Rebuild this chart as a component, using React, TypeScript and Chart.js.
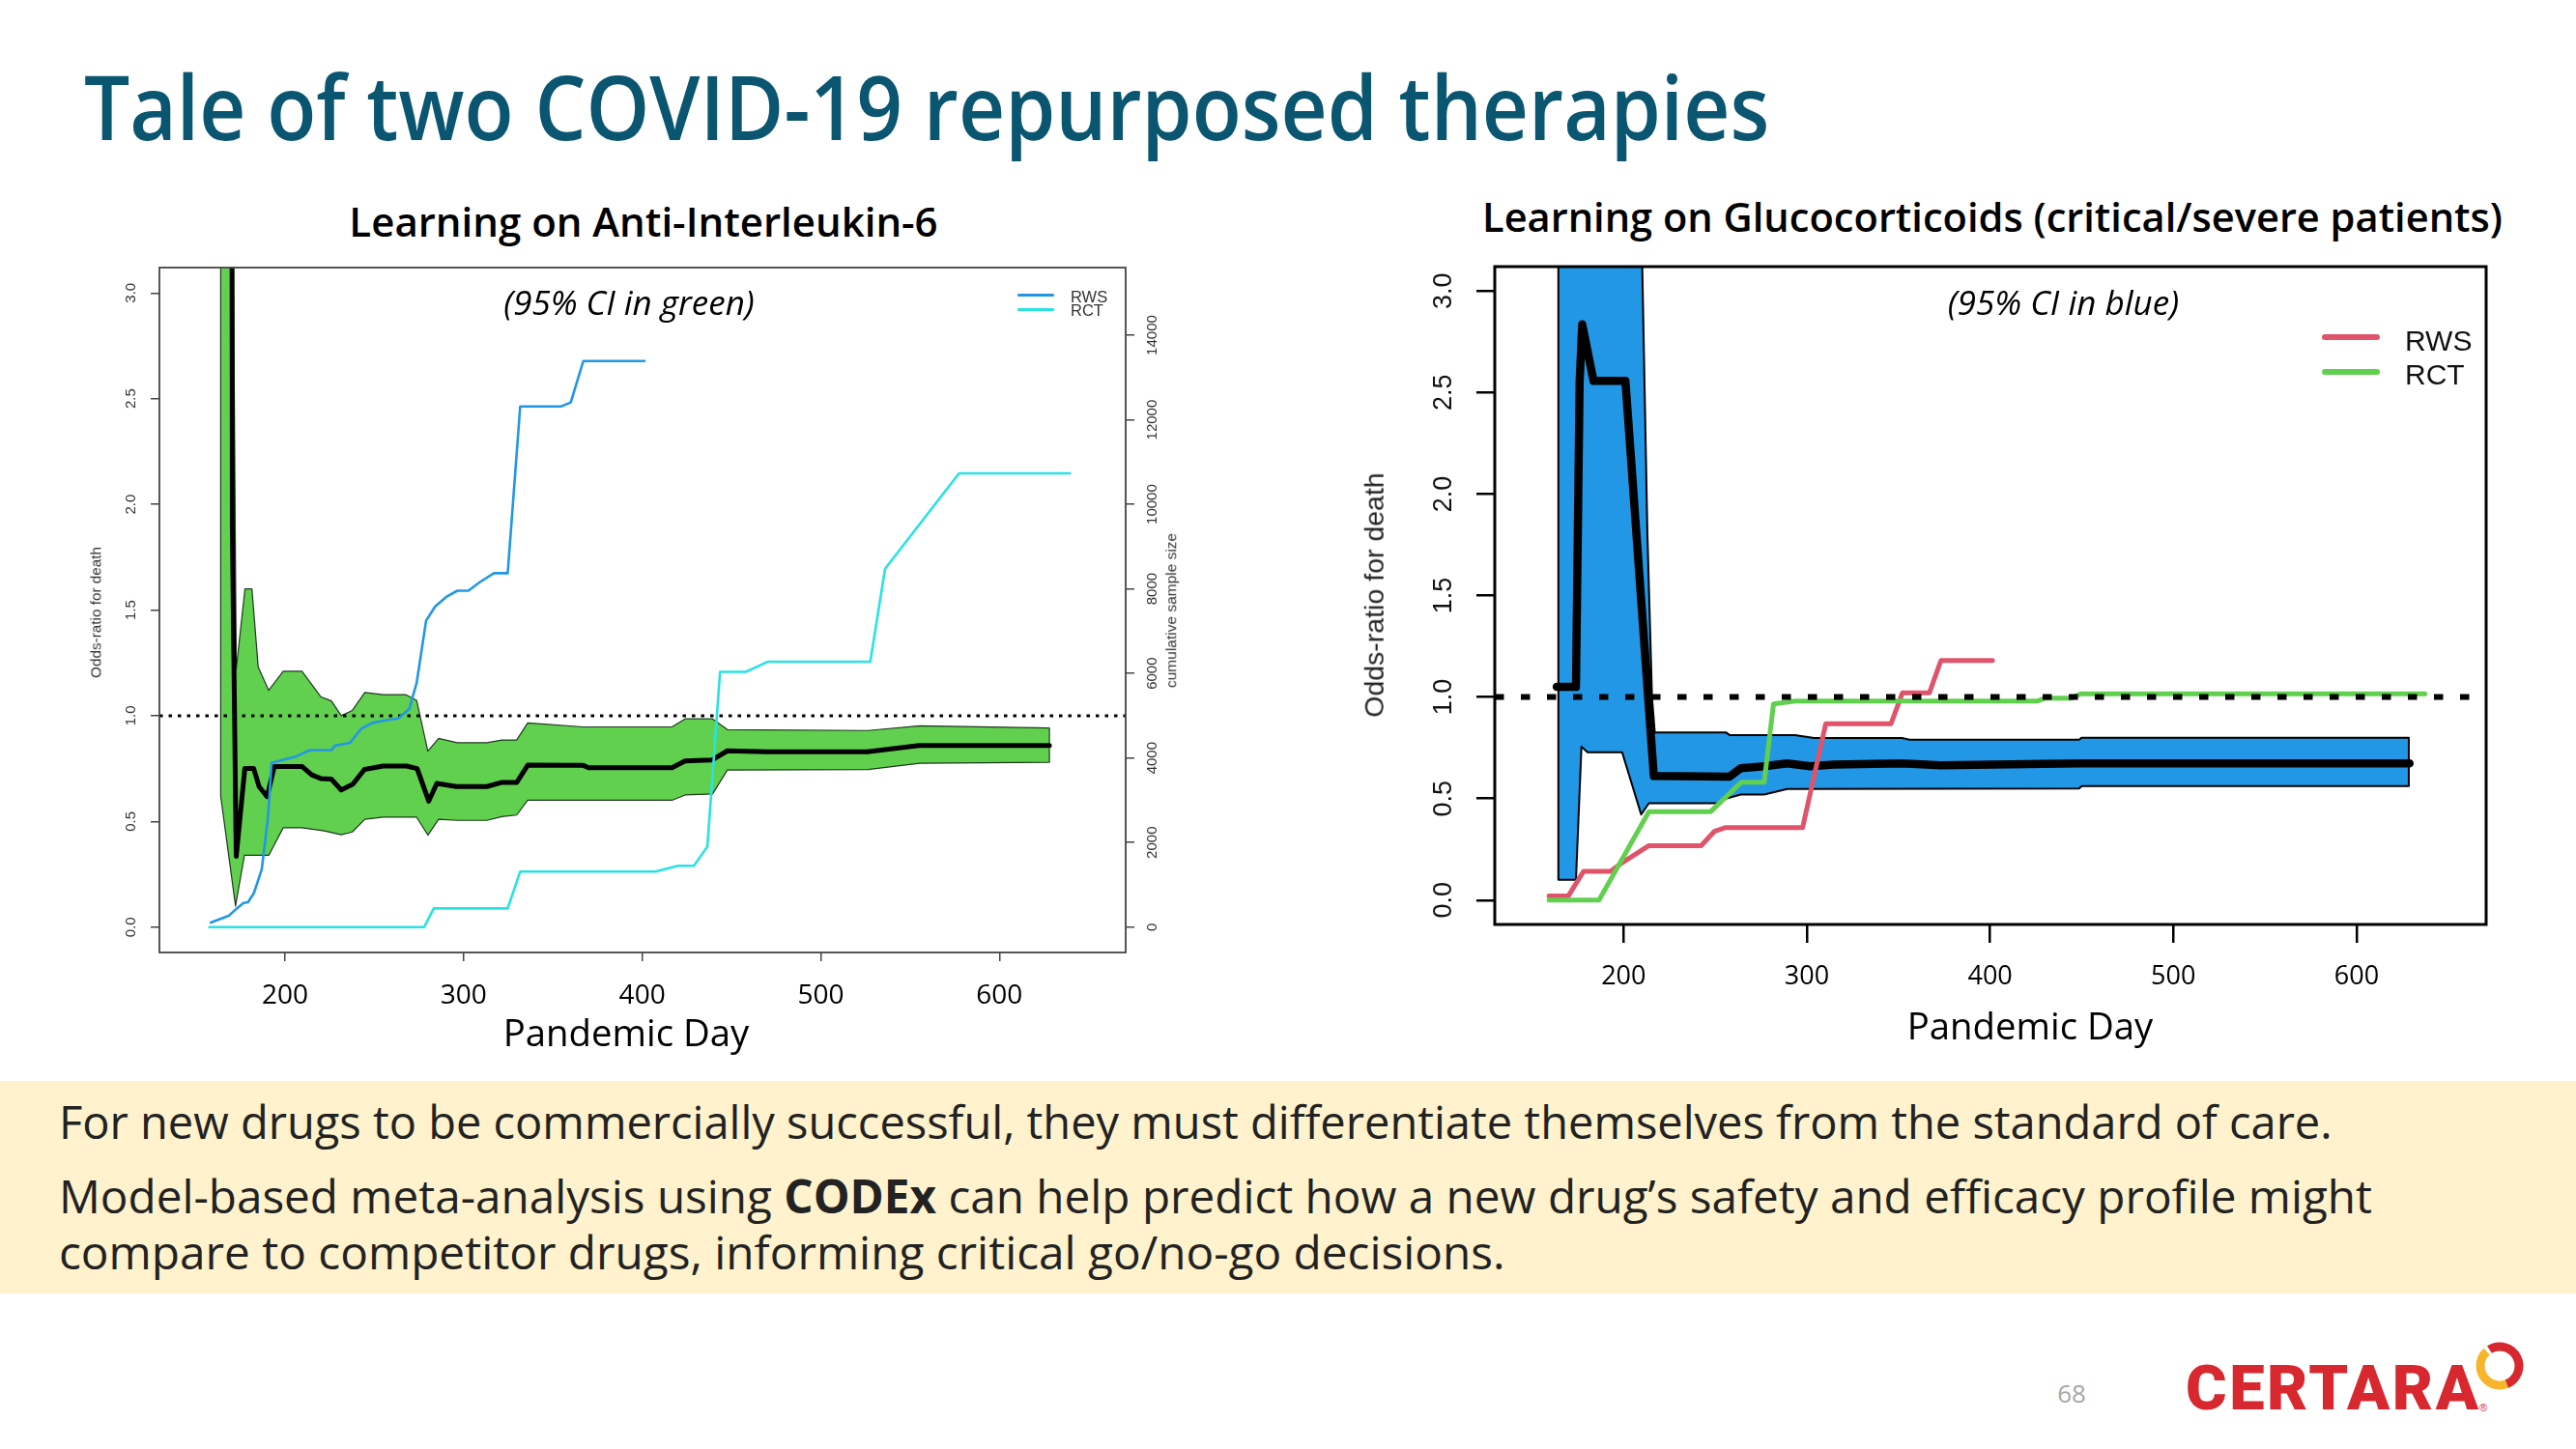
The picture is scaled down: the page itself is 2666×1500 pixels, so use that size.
import React, { useEffect, useRef } from "react";
import { Chart, registerables } from "chart.js";

Chart.register(...registerables);

// ---------------- Data (day, value) ----------------
// Left: Anti-Interleukin-6 — odds-ratio for death with 95% CI, cumulative sample sizes
const il6OddsRatio: [number, number][] = [
  [164, 60], [170.5, 1.9], [172.7, 0.335], [177.5, 0.75], [182.5, 0.75], [185.5, 0.665], [190, 0.617],
  [194, 0.76], [209.5, 0.76], [215, 0.72], [220, 0.703], [226, 0.7], [231.5, 0.649], [238, 0.676],
  [244.5, 0.746], [255, 0.762], [268, 0.762], [274, 0.75], [280.5, 0.596], [285, 0.68], [296, 0.665],
  [313, 0.665], [321, 0.684], [329.7, 0.684], [336, 0.767], [367, 0.765], [370, 0.754], [416.7, 0.754],
  [424, 0.786], [439, 0.79], [447.7, 0.834], [470, 0.829], [526, 0.829], [555, 0.859], [628, 0.859],
];
const il6CiUpper: [number, number][] = [
  [164, 40], [170.9, 3.4], [172.7, 1.22], [177.6, 1.6], [181.5, 1.6], [185, 1.23], [190.9, 1.12],
  [199, 1.21], [209.5, 1.21], [220, 1.09], [226, 1.07], [231.5, 1.0], [237.7, 1.025], [244.7, 1.11],
  [255, 1.1], [267.5, 1.1], [273.7, 1.073], [280, 0.832], [286, 0.893], [296.5, 0.872], [313, 0.872],
  [321.4, 0.885], [329.7, 0.885], [335.9, 0.966], [367, 0.947], [416.7, 0.947], [424, 0.985],
  [439.4, 0.985], [447.7, 0.934], [526.4, 0.93], [555.4, 0.952], [628, 0.942],
];
const il6CiLower: [number, number][] = [
  [164, 0.62], [172.3, 0.1], [177.3, 0.34], [191, 0.34], [199, 0.47], [209.5, 0.47], [222, 0.455],
  [231.5, 0.437], [237.7, 0.45], [244.7, 0.51], [255, 0.52], [273.7, 0.52], [280, 0.435], [286, 0.51],
  [296.5, 0.505], [313, 0.505], [321.4, 0.523], [329.7, 0.53], [335.9, 0.6], [416.7, 0.6], [424, 0.625],
  [439.4, 0.63], [447.7, 0.743], [526.4, 0.745], [555.4, 0.775], [628, 0.78],
];
const il6RwsSampleSize: [number, number][] = [
  [158.5, 110], [168.5, 270], [172.5, 420], [176.8, 570], [179.3, 590], [182.6, 805], [187, 1370],
  [190.5, 2600], [192.5, 3890], [194, 3900], [205.4, 4025], [214, 4186], [226, 4186], [228, 4293],
  [236.5, 4360], [242.7, 4695], [249, 4830], [255, 4883], [263.4, 4936], [269.6, 5165], [273.7, 5770],
  [279, 7245], [284, 7580], [290.3, 7809], [296.5, 7957], [302.7, 7957], [309, 8157], [317, 8372],
  [324.7, 8372], [331.7, 12316], [354.5, 12316], [360, 12410], [367, 13389], [401.3, 13389],
];
const il6RctSampleSize: [number, number][] = [
  [157.7, 0], [277.9, 0], [283.3, 443], [324.7, 443], [331.7, 1315], [407.5, 1315], [420, 1449],
  [429, 1449], [436.5, 1905], [443.6, 6037], [458, 6037], [470.5, 6279], [527.7, 6279], [536, 8478],
  [577.4, 10733], [639.5, 10733],
];

// Right: Glucocorticoids (critical/severe patients)
const gcOddsRatio: [number, number][] = [
  [163.5, 1.05], [174, 1.05], [176, 2.55], [177.4, 2.836], [183.6, 2.557], [201, 2.557], [216.5, 0.611],
  [257.9, 0.608], [264, 0.65], [276.7, 0.659], [289.3, 0.673], [301.9, 0.659], [314.5, 0.667],
  [352, 0.673], [373, 0.664], [448.6, 0.673], [628.9, 0.673],
];
const gcCiUpper: [number, number][] = [
  [164.4, 40], [209.4, 40], [209.8, 3.3], [213, 1.8], [215.5, 1.0], [217, 0.826], [255.8, 0.826],
  [258, 0.812], [293.5, 0.812], [304, 0.798], [352, 0.798], [356, 0.79], [448.6, 0.79], [450, 0.8],
  [628.5, 0.8],
];
const gcCiLower: [number, number][] = [
  [164.4, 0.1], [174, 0.1], [177, 0.756], [180.3, 0.728], [199.2, 0.728], [209.6, 0.421], [213.8, 0.477],
  [251.6, 0.477], [255.8, 0.5], [264, 0.52], [276.7, 0.52], [289.3, 0.547], [448.6, 0.55], [450, 0.561],
  [628.5, 0.561],
];
const gcRws: [number, number][] = [
  [159.3, 0.02], [169.8, 0.02], [178.2, 0.142], [192.9, 0.142], [199.2, 0.184], [213.8, 0.268],
  [242.3, 0.268], [249.5, 0.338], [255.8, 0.357], [297.7, 0.357], [310.3, 0.868], [345.9, 0.868],
  [352.2, 1.021], [366.9, 1.021], [373.2, 1.18], [401.3, 1.18],
];
const gcRct: [number, number][] = [
  [159.3, 0], [186.6, 0], [213.8, 0.435], [247.4, 0.435], [264.2, 0.58], [276.7, 0.58], [281.8, 0.966],
  [293.5, 0.98], [425.6, 0.98], [429.8, 0.994], [444.4, 0.994], [449.5, 1.016], [637.3, 1.016],
];

// Axes
const dayTicks = [200, 300, 400, 500, 600];
const orTicks = [0, 0.5, 1, 1.5, 2, 2.5, 3];
const sampleTicks = [0, 2000, 4000, 6000, 8000, 10000, 12000, 14000];
const dayRange = [129.7, 670.7];
const orRange = [-0.12, 3.12];
const sampleRange = [-600, 15600];
const referenceOR = 1;

// ---------------- Helpers ----------------
const SANS = "'Open Sans', 'Noto Sans', sans-serif";
const ARIAL = "'Liberation Sans', Arial, sans-serif";

const toXY = (pts: [number, number][]) => pts.map(([x, y]) => ({ x, y }));
const band = (upper: [number, number][], lower: [number, number][]) =>
  toXY([...upper, ...[...lower].reverse(), upper[0]]);
const refLine = () => [
  { x: dayRange[0], y: referenceOR },
  { x: dayRange[1], y: referenceOR },
];

const boxPlugin = (color: string, width: number) => ({
  id: "plotBox",
  afterDatasetsDraw(chart: any) {
    const { ctx, chartArea: a } = chart;
    ctx.save();
    ctx.strokeStyle = color;
    ctx.lineWidth = width;
    ctx.strokeRect(a.left, a.top, a.right - a.left, a.bottom - a.top);
    ctx.restore();
  },
});

const zeroPad = (s: any) => {
  s.paddingTop = 0;
  s.paddingBottom = 0;
  s.paddingLeft = 0;
  s.paddingRight = 0;
};

function axis(o: {
  position: string; range: number[]; ticks: number[]; size: number; tickLen: number; color: string;
  lineWidth: number; pad: number; font: any; labelColor: string; fmt: (v: number) => string; rotated: boolean;
}) {
  const horizontal = o.position === "bottom";
  return {
    type: "linear",
    position: o.position,
    min: o.range[0],
    max: o.range[1],
    afterBuildTicks: (s: any) => {
      s.ticks = o.ticks.map((value) => ({ value }));
    },
    afterFit: (s: any) => {
      if (horizontal) s.height = o.size;
      else s.width = o.size;
      zeroPad(s);
    },
    grid: { drawOnChartArea: false, drawTicks: true, tickLength: o.tickLen, color: o.color, lineWidth: o.lineWidth },
    border: { display: false },
    ticks: {
      autoSkip: false,
      includeBounds: false,
      padding: o.pad,
      color: o.labelColor,
      font: o.font,
      callback: (v: any) => o.fmt(Number(v)),
      ...(o.rotated ? { minRotation: 90, maxRotation: 90, crossAlign: "center" } : { minRotation: 0, maxRotation: 0 }),
    },
  };
}

const baseOptions = (padding: any) => ({
  animation: false,
  responsive: false,
  maintainAspectRatio: false,
  devicePixelRatio: 1,
  events: [],
  layout: { padding },
  plugins: { legend: { display: false }, tooltip: { enabled: false }, title: { display: false } },
  elements: { point: { radius: 0 }, line: { tension: 0, borderJoinStyle: "round", borderCapStyle: "round" } },
});

const leftConfig = () => ({
  type: "line",
  data: {
    datasets: [
      { label: "RCT", data: toXY(il6RctSampleSize), yAxisID: "n", borderColor: "#28E2E5", borderWidth: 2.6, fill: false },
      { label: "RWS", data: toXY(il6RwsSampleSize), yAxisID: "n", borderColor: "#2297E6", borderWidth: 2.6, fill: false },
      { label: "OR = 1", data: refLine(), yAxisID: "y", borderColor: "#000", borderWidth: 3, borderDash: [3.5, 6], borderCapStyle: "butt", fill: false },
      { label: "Odds-ratio", data: toXY(il6OddsRatio), yAxisID: "y", borderColor: "#000", borderWidth: 5, fill: false },
      { label: "95% CI", data: band(il6CiUpper, il6CiLower), yAxisID: "y", borderColor: "#1e3a1e", borderWidth: 1.2, backgroundColor: "#61D04F", fill: "shape" },
    ],
  },
  options: {
    ...baseOptions({ top: 15, left: 0, right: 0, bottom: 0 }),
    scales: {
      x: axis({ position: "bottom", range: dayRange, ticks: dayTicks, size: 66, tickLen: 9, color: "#444", lineWidth: 1.5, pad: 19, font: { family: SANS, size: 28 }, labelColor: "#000", fmt: (v) => String(v), rotated: false }),
      y: axis({ position: "left", range: orRange, ticks: orTicks, size: 105, tickLen: 9, color: "#444", lineWidth: 1.5, pad: 9.3, font: { family: ARIAL, size: 15 }, labelColor: "#333", fmt: (v) => v.toFixed(1), rotated: true }),
      n: axis({ position: "right", range: sampleRange, ticks: sampleTicks, size: 95, tickLen: 9, color: "#444", lineWidth: 1.5, pad: -2, font: { family: ARIAL, size: 15 }, labelColor: "#333", fmt: (v) => String(v), rotated: true }),
    },
  },
  plugins: [boxPlugin("#444", 1.8)],
});

const rightConfig = () => ({
  type: "line",
  data: {
    datasets: [
      { label: "OR = 1", data: refLine(), borderColor: "#000", borderWidth: 6, borderDash: [9.5, 17.5], borderCapStyle: "butt", fill: false },
      { label: "RCT", data: toXY(gcRct), borderColor: "#61D04F", borderWidth: 5, fill: false },
      { label: "RWS", data: toXY(gcRws), borderColor: "#DF536B", borderWidth: 5, fill: false },
      { label: "Odds-ratio", data: toXY(gcOddsRatio), borderColor: "#000", borderWidth: 8.5, fill: false },
      { label: "95% CI", data: band(gcCiUpper, gcCiLower), borderColor: "#000", borderWidth: 2, backgroundColor: "#2297E6", fill: "shape" },
    ],
  },
  options: {
    ...baseOptions({ top: 14, left: 0, right: 57, bottom: 0 }),
    scales: {
      x: axis({ position: "bottom", range: dayRange, ticks: dayTicks, size: 95, tickLen: 19, color: "#000", lineWidth: 2.5, pad: 19, font: { family: SANS, size: 27 }, labelColor: "#000", fmt: (v) => String(v), rotated: false }),
      y: axis({ position: "left", range: orRange, ticks: orTicks, size: 147, tickLen: 19, color: "#000", lineWidth: 2.5, pad: 14.2, font: { family: ARIAL, size: 27 }, labelColor: "#111", fmt: (v) => v.toFixed(1), rotated: true }),
    },
  },
  plugins: [boxPlugin("#000", 3)],
});

// ---------------- Components ----------------
function ChartCanvas({ config, left, top, width, height }: any) {
  const ref = useRef<HTMLCanvasElement>(null);
  useEffect(() => {
    const chart = new Chart(ref.current as HTMLCanvasElement, config() as any);
    return () => chart.destroy();
  }, []);
  return (
    <canvas
      ref={ref}
      width={width}
      height={height}
      style={{ position: "absolute", left, top, width, height, display: "block" }}
    />
  );
}

function Txt({ x, y, size, children, align = "left", family = SANS, weight = 400, italic = false, color = "#000", rotate = false, scaleX = 1, spacing = 0 }: any) {
  const tx = rotate || align === "center" ? "-50%" : "0";
  let transform = `translate(${tx}, -50%)`;
  if (rotate) transform += " rotate(-90deg)";
  if (scaleX !== 1) transform += ` scaleX(${scaleX})`;
  return (
    <div
      style={{
        position: "absolute", left: x, top: y, fontSize: size, lineHeight: 1, fontFamily: family,
        fontWeight: weight, fontStyle: italic ? "italic" : "normal", color, whiteSpace: "nowrap",
        transform, transformOrigin: align === "left" && !rotate ? "left center" : "center center",
        letterSpacing: spacing,
      }}
    >
      {children}
    </div>
  );
}

function arcPath(cx: number, cy: number, r: number, a0: number, a1: number) {
  const rad = (a: number) => (a * Math.PI) / 180;
  const sweep = (((a1 - a0) % 360) + 360) % 360;
  const x0 = cx + r * Math.cos(rad(a0)), y0 = cy + r * Math.sin(rad(a0));
  const x1 = cx + r * Math.cos(rad(a1)), y1 = cy + r * Math.sin(rad(a1));
  return `M ${x0} ${y0} A ${r} ${r} 0 ${sweep > 180 ? 1 : 0} 1 ${x1} ${y1}`;
}

function LegendLine({ x0, x1, y, color, width }: any) {
  return (
    <div style={{ position: "absolute", left: x0, top: y - width / 2, width: x1 - x0, height: width, background: color, borderRadius: width / 2 }} />
  );
}

export default function App() {
  return (
    <div style={{ position: "absolute", left: 0, top: 0, width: 2666, height: 1500, background: "#fff", overflow: "hidden" }}>
      <Txt x={87} y={109} size={93} weight={600} color="#0a5670" scaleX={0.9}>
        Tale of two COVID-19 repurposed therapies
      </Txt>

      {/* Left chart */}
      <Txt x={666} y={229} size={42} weight={600} align="center">Learning on Anti-Interleukin-6</Txt>
      <ChartCanvas config={leftConfig} left={60} top={262} width={1200} height={790} />
      <Txt x={651} y={312} size={35} italic align="center">(95% CI in green)</Txt>
      <Txt x={648} y={1068} size={38.3} align="center">Pandemic Day</Txt>
      <Txt x={98.5} y={634} size={15.3} family={ARIAL} color="#333" rotate>Odds-ratio for death</Txt>
      <Txt x={1212} y={632} size={15.5} family={ARIAL} color="#333" rotate>cumulative sample size</Txt>
      <LegendLine x0={1053} x1={1091} y={305.5} color="#2297E6" width={2.6} />
      <LegendLine x0={1053} x1={1091} y={320.5} color="#28E2E5" width={2.6} />
      <Txt x={1108} y={307} size={16.5} family={ARIAL} color="#333">RWS</Txt>
      <Txt x={1108} y={321} size={16.5} family={ARIAL} color="#333">RCT</Txt>

      {/* Right chart */}
      <Txt x={2062} y={225} size={41.6} weight={600} align="center">Learning on Glucocorticoids (critical/severe patients)</Txt>
      <ChartCanvas config={rightConfig} left={1400} top={262} width={1230} height={790} />
      <Txt x={2135.5} y={312} size={35} italic align="center">(95% CI in blue)</Txt>
      <Txt x={2101} y={1061} size={38.3} align="center">Pandemic Day</Txt>
      <Txt x={1421.5} y={615.6} size={28.5} family={ARIAL} color="#222" rotate>Odds-ratio for death</Txt>
      <LegendLine x0={2403} x1={2463} y={348.5} color="#DF536B" width={6} />
      <LegendLine x0={2403} x1={2463} y={384.5} color="#61D04F" width={6} />
      <Txt x={2489} y={352.5} size={30} family={ARIAL} color="#111">RWS</Txt>
      <Txt x={2489} y={388} size={30} family={ARIAL} color="#111">RCT</Txt>

      {/* Bottom message box */}
      <div style={{ position: "absolute", left: 0, top: 1119, width: 2666, height: 220, background: "#FFF2CC" }} />
      <Txt x={61} y={1161} size={47.5} color="#222" scaleX={0.99}>
        For new drugs to be commercially successful, they must differentiate themselves from the standard of care.
      </Txt>
      <Txt x={61} y={1238} size={47.5} color="#222" scaleX={1.003}>
        Model-based meta-analysis using <span style={{ fontWeight: 700 }}>CODEx</span> can help predict how a new drug’s safety and efficacy profile might
      </Txt>
      <Txt x={61} y={1296} size={47.5} color="#222" scaleX={1.005}>
        compare to competitor drugs, informing critical go/no-go decisions.
      </Txt>

      {/* Footer */}
      <Txt x={2144} y={1442} size={26} color="#a6a6a6" align="center">68</Txt>
      <Txt x={2262} y={1437} size={65} weight={900} family="Roboto, 'Open Sans', sans-serif" color="#D7282F" spacing={2.5}>CERTARA</Txt>
      <svg style={{ position: "absolute", left: 2556, top: 1383 }} width={62} height={62} viewBox="0 0 62 62">
        <path d={arcPath(31, 31, 20, 35, 228)} stroke="#F7B52C" strokeWidth={9} fill="none" />
        <path d={arcPath(31, 31, 20, 238, 68)} stroke="#D7282F" strokeWidth={9} fill="none" />
      </svg>
      <div style={{ position: "absolute", left: 2566, top: 1452, fontSize: 11, fontFamily: ARIAL, color: "#D7282F", lineHeight: 1 }}>®</div>
    </div>
  );
}
